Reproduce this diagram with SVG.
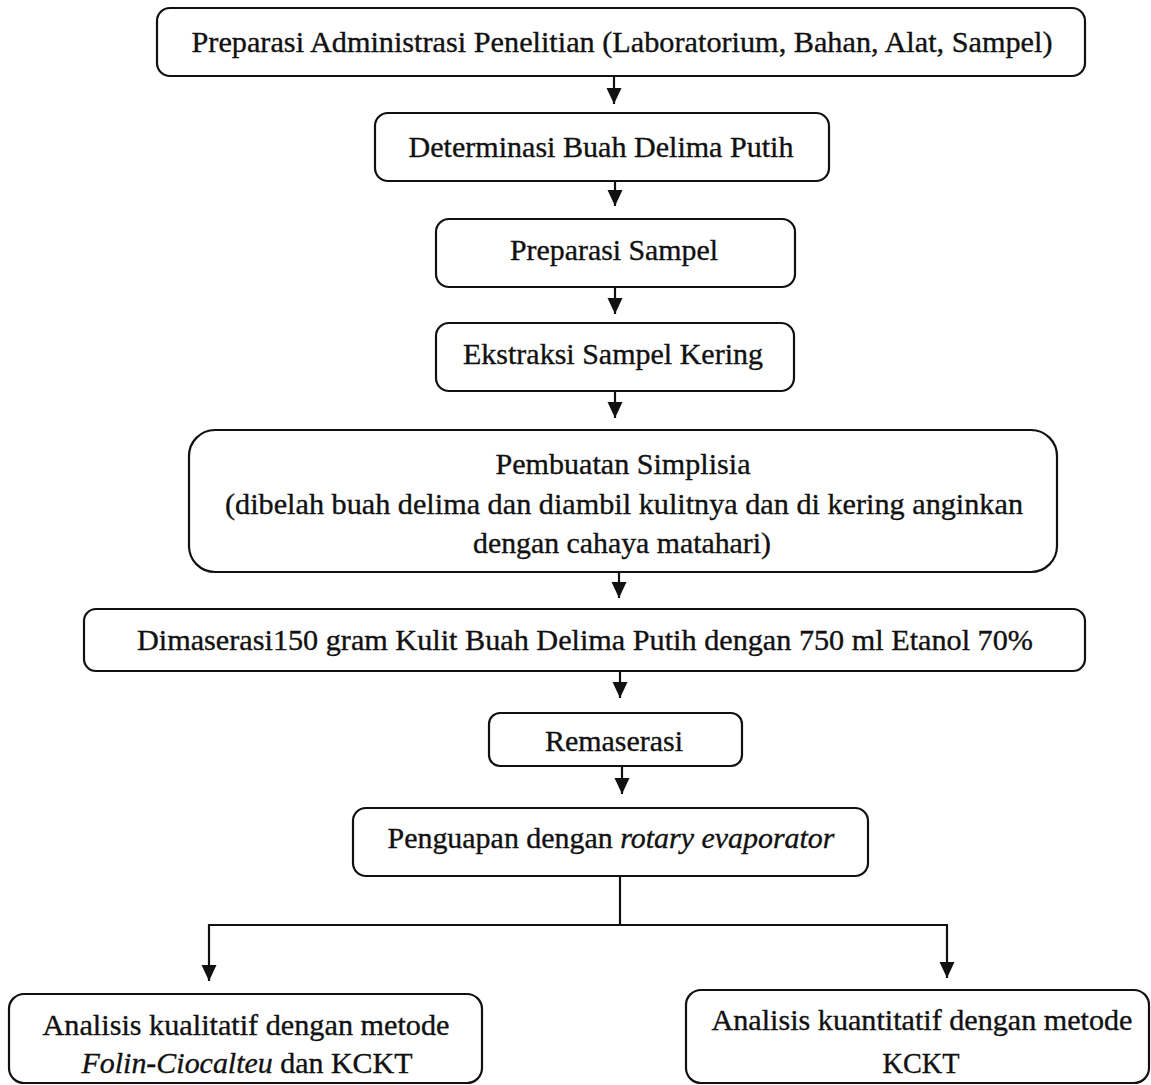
<svg xmlns="http://www.w3.org/2000/svg" width="1151" height="1085" viewBox="0 0 1151 1085">
<defs>
<style>
.box{fill:#fff;stroke:#111;stroke-width:2.2}
.t{font-family:"Liberation Serif","Times New Roman",Times,serif;font-size:30px;fill:#111;stroke:#111;stroke-width:0.35;text-anchor:middle}
.i{font-style:italic}
.c{fill:none;stroke:#111;stroke-width:2.2}
</style>
<marker id="ah" markerUnits="userSpaceOnUse" markerWidth="16" markerHeight="16" viewBox="0 0 16 16" refX="16" refY="7.5" orient="auto">
<path d="M0,0 L16,7.5 L0,15 Z" fill="#111"/>
</marker>
</defs>
<rect width="1151" height="1085" fill="#fff"/>

<g id="connectors">
<line class="c" x1="614" y1="76" x2="614" y2="104" marker-end="url(#ah)"/>
<line class="c" x1="615" y1="181" x2="615" y2="206" marker-end="url(#ah)"/>
<line class="c" x1="615" y1="287" x2="615" y2="314" marker-end="url(#ah)"/>
<line class="c" x1="615" y1="391" x2="615" y2="418" marker-end="url(#ah)"/>
<line class="c" x1="619" y1="572" x2="619" y2="598" marker-end="url(#ah)"/>
<line class="c" x1="620" y1="671" x2="620" y2="698" marker-end="url(#ah)"/>
<line class="c" x1="622" y1="766" x2="622" y2="794" marker-end="url(#ah)"/>
<line class="c" x1="620" y1="876" x2="620" y2="925"/>
<polyline class="c" points="620,925 209,925 209,981" marker-end="url(#ah)"/>
<polyline class="c" points="620,925 947,925 947,978" marker-end="url(#ah)"/>
</g>

<g id="n1">
<rect class="box" x="157" y="8" width="928" height="68" rx="13"/>
<text class="t" x="622" y="52" textLength="861" lengthAdjust="spacingAndGlyphs">Preparasi Administrasi Penelitian (Laboratorium, Bahan, Alat, Sampel)</text>
</g>
<g id="n2">
<rect class="box" x="375" y="113" width="454" height="68" rx="13"/>
<text class="t" x="601" y="157" textLength="385" lengthAdjust="spacingAndGlyphs">Determinasi Buah Delima Putih</text>
</g>
<g id="n3">
<rect class="box" x="436" y="219" width="359" height="68" rx="13"/>
<text class="t" x="614" y="260" textLength="208" lengthAdjust="spacingAndGlyphs">Preparasi Sampel</text>
</g>
<g id="n4">
<rect class="box" x="436" y="323" width="358" height="68" rx="13"/>
<text class="t" x="613" y="364" textLength="300" lengthAdjust="spacingAndGlyphs">Ekstraksi Sampel Kering</text>
</g>
<g id="n5">
<rect class="box" x="189" y="430" width="868" height="142" rx="26"/>
<text class="t" x="623" y="474" textLength="255" lengthAdjust="spacingAndGlyphs">Pembuatan Simplisia</text>
<text class="t" x="624" y="514" textLength="798" lengthAdjust="spacingAndGlyphs">(dibelah buah delima dan diambil kulitnya dan di kering anginkan</text>
<text class="t" x="622" y="553" textLength="298" lengthAdjust="spacingAndGlyphs">dengan cahaya matahari)</text>
</g>
<g id="n6">
<rect class="box" x="84" y="609" width="1001" height="62" rx="12"/>
<text class="t" x="585" y="650" textLength="896" lengthAdjust="spacingAndGlyphs">Dimaserasi150 gram Kulit Buah Delima Putih dengan 750 ml Etanol 70%</text>
</g>
<g id="n7">
<rect class="box" x="489" y="713" width="253" height="53" rx="11"/>
<text class="t" x="614" y="751" textLength="138" lengthAdjust="spacingAndGlyphs">Remaserasi</text>
</g>
<g id="n8">
<rect class="box" x="353" y="808" width="515" height="68" rx="13"/>
<text class="t" x="611" y="848" textLength="447" lengthAdjust="spacingAndGlyphs">Penguapan dengan <tspan class="i">rotary evaporator</tspan></text>
</g>
<g id="n9">
<rect class="box" x="9" y="994" width="473" height="89" rx="15"/>
<text class="t" x="246" y="1035" textLength="407" lengthAdjust="spacingAndGlyphs">Analisis kualitatif dengan metode</text>
<text class="t" x="247" y="1073" textLength="331" lengthAdjust="spacingAndGlyphs"><tspan class="i">Folin-Ciocalteu</tspan> dan KCKT</text>
</g>
<g id="n10">
<rect class="box" x="686" y="990" width="463" height="93" rx="15"/>
<text class="t" x="922" y="1030" textLength="421" lengthAdjust="spacingAndGlyphs">Analisis kuantitatif dengan metode</text>
<text class="t" x="921" y="1073" textLength="77" lengthAdjust="spacingAndGlyphs">KCKT</text>
</g>
</svg>
